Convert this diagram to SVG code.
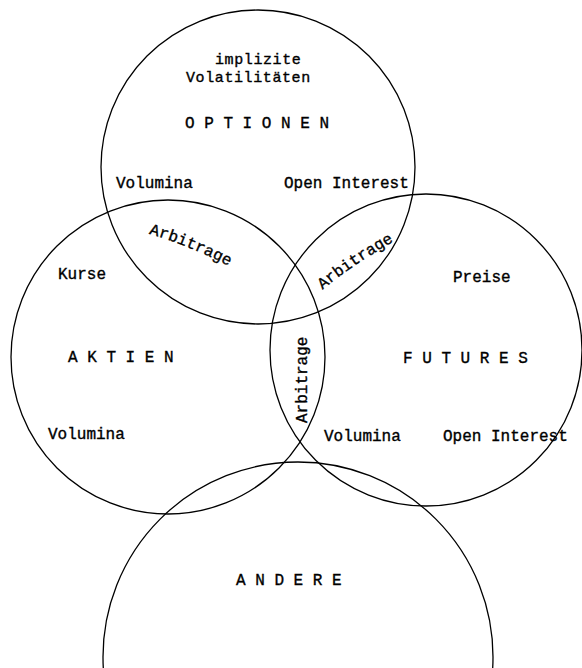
<svg xmlns="http://www.w3.org/2000/svg" width="582" height="668" viewBox="0 0 582 668">
<style>
.c{fill:none;stroke:#000;stroke-width:1.3}
text{font-family:"Liberation Mono","DejaVu Sans Mono",monospace;font-size:16px;fill:#000;stroke:#000;stroke-width:0.35}
.s{font-size:15px;letter-spacing:0.6px}
</style>
<defs>
<path id="arcA" d="M146,233 Q190,245 238,271"/>
<path id="arcB" d="M321,291 Q353,264 400,238"/>
</defs>
<rect width="582" height="668" fill="#fff"/>
<g id="optionen">
<circle class="c" cx="258" cy="167" r="157"/>
<text class="s" x="215" y="64">implizite</text>
<text class="s" x="186" y="82">Volatilitäten</text>
<text x="185" y="128">O P T I O N E N</text>
<text x="116" y="188">Volumina</text>
<text x="284" y="188">Open Interest</text>
</g>
<g id="aktien">
<circle class="c" cx="168" cy="357" r="157"/>
<text x="58" y="279">Kurse</text>
<text x="68" y="362">A K T I E N</text>
<text x="48" y="439">Volumina</text>
</g>
<g id="futures">
<circle class="c" cx="426" cy="350" r="156"/>
<text x="453" y="282">Preise</text>
<text x="403" y="363">F U T U R E S</text>
<text x="324" y="441">Volumina</text>
<text x="443" y="441">Open Interest</text>
</g>
<g id="andere">
<circle class="c" cx="298" cy="657" r="195"/>
<text x="236" y="585">A N D E R E</text>
</g>
<g id="connectors">
<text><textPath href="#arcA" startOffset="3">Arbitrage</textPath></text>
<text><textPath href="#arcB" startOffset="2">Arbitrage</textPath></text>
<text transform="translate(307,423) rotate(-90)">Arbitrage</text>
</g>
</svg>
